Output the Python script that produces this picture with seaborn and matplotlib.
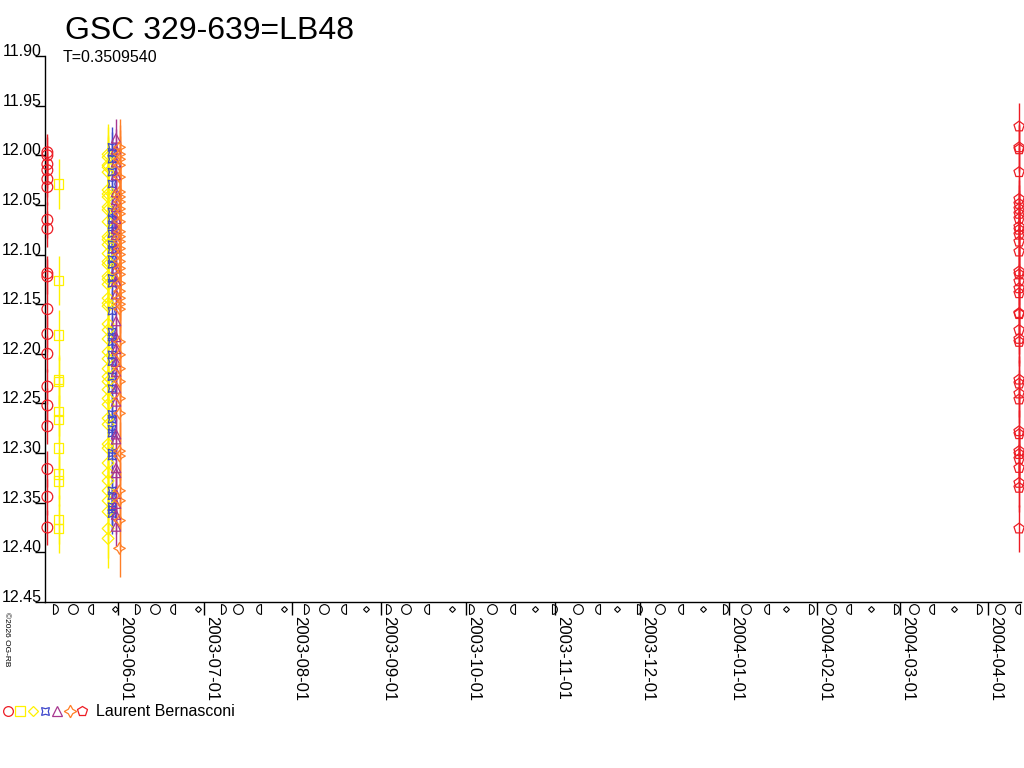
import numpy as np
import pandas as pd
import seaborn as sns
import matplotlib.pyplot as plt
from matplotlib.lines import Line2D
from matplotlib.path import Path
from matplotlib.legend_handler import HandlerTuple
from matplotlib.transforms import blended_transform_factory

sns.set_theme(style='white')
plt.rcParams['font.family'] = ['Liberation Sans', 'DejaVu Sans']
plt.rcParams['text.color'] = 'black'
plt.rcParams['xtick.color'] = 'black'
plt.rcParams['ytick.color'] = 'black'

# ---- data ----
title = 'GSC 329-639=LB48'
period_label = 'T=0.3509540'
observer = 'Laurent Bernasconi'
credit = '\u00a92026 OG-RB'

x_range = ['2003-05-06 07:00', '2004-04-12 12:00']
y_ticks = [11.90, 11.95, 12.00, 12.05, 12.10, 12.15, 12.20, 12.25, 12.30, 12.35, 12.40, 12.45]
month_ticks = ['2003-06-01', '2003-07-01', '2003-08-01', '2003-09-01', '2003-10-01',
               '2003-11-01', '2003-12-01', '2004-01-01', '2004-02-01', '2004-03-01',
               '2004-04-01']

# moon phases inside the plotted range
new_moons = ['2003-05-31', '2003-06-29', '2003-07-29', '2003-08-27', '2003-09-26',
             '2003-10-25', '2003-11-23', '2003-12-23', '2004-01-21', '2004-02-20',
             '2004-03-20']
first_quarters = ['2003-05-09', '2003-06-07', '2003-07-07', '2003-08-05', '2003-09-03',
                  '2003-10-02', '2003-10-31', '2003-11-30', '2003-12-30', '2004-01-29',
                  '2004-02-28', '2004-03-28']
full_moons = ['2003-05-16', '2003-06-14', '2003-07-13', '2003-08-12', '2003-09-10',
              '2003-10-10', '2003-11-09', '2003-12-08', '2004-01-07', '2004-02-06',
              '2004-03-06', '2004-04-05']
last_quarters = ['2003-05-23', '2003-06-21', '2003-07-21', '2003-08-20', '2003-09-18',
                 '2003-10-18', '2003-11-17', '2003-12-16', '2004-01-15', '2004-02-13',
                 '2004-03-13', '2004-04-12']

circle_date = '2003-05-07 03:00'
circle_mag = [11.997, 12.000, 12.009, 12.015, 12.024, 12.032, 12.065, 12.074, 12.119,
              12.122, 12.155, 12.180, 12.200, 12.233, 12.252, 12.273, 12.316, 12.344,
              12.375]
circle_err = 0.018

square_date = '2003-05-11 03:00'
square_mag = [12.029, 12.126, 12.181, 12.226, 12.228, 12.258, 12.266, 12.295, 12.321,
              12.328, 12.367, 12.376]
square_err = 0.025

diamond_date = '2003-05-28 10:00'
diamond_mag = [11.999, 12.002, 12.010, 12.012, 12.017, 12.035, 12.039, 12.042, 12.052,
               12.055, 12.067, 12.082, 12.085, 12.090, 12.099, 12.107, 12.110, 12.122,
               12.125, 12.130, 12.144, 12.149, 12.152, 12.170, 12.176, 12.185, 12.198,
               12.205, 12.215, 12.223, 12.228, 12.236, 12.245, 12.251, 12.265, 12.271,
               12.291, 12.295, 12.310, 12.320, 12.328, 12.338, 12.348, 12.359, 12.376,
               12.386]
diamond_err = 0.03

xstar_date = '2003-05-29 19:00'
xstar_mag = [11.992, 11.997, 12.004, 12.017, 12.029, 12.057, 12.065, 12.070, 12.079,
             12.090, 12.095, 12.105, 12.110, 12.124, 12.129, 12.157, 12.178, 12.183,
             12.188, 12.201, 12.208, 12.223, 12.235, 12.261, 12.266, 12.276, 12.280,
             12.300, 12.303, 12.338, 12.343, 12.354, 12.357, 12.361]
xstar_err = 0.02

triangle_date = '2003-05-31 05:00'
triangle_mag = [11.983, 11.994, 12.007, 12.020, 12.037, 12.045, 12.052, 12.064, 12.074,
                12.080, 12.094, 12.114, 12.127, 12.140, 12.167, 12.183, 12.195, 12.208,
                12.218, 12.235, 12.248, 12.281, 12.286, 12.315, 12.320, 12.341, 12.351,
                12.362, 12.374]
triangle_err = 0.02

star_date = '2003-06-01 10:00'
star_mag = [11.992, 11.999, 12.004, 12.010, 12.022, 12.037, 12.042, 12.047, 12.054,
            12.059, 12.067, 12.077, 12.082, 12.087, 12.094, 12.100, 12.107, 12.114,
            12.120, 12.129, 12.137, 12.144, 12.150, 12.155, 12.188, 12.201, 12.215,
            12.228, 12.245, 12.260, 12.298, 12.303, 12.338, 12.348, 12.368, 12.396]
star_err = 0.029

pentagon_date = '2004-04-11 20:00'
pentagon_mag = [11.971, 11.992, 11.994, 12.017, 12.044, 12.049, 12.054, 12.059, 12.064,
                12.072, 12.075, 12.080, 12.087, 12.097, 12.117, 12.120, 12.127, 12.134,
                12.139, 12.159, 12.160, 12.176, 12.185, 12.188, 12.226, 12.230, 12.240,
                12.246, 12.278, 12.281, 12.298, 12.301, 12.306, 12.315, 12.330, 12.335,
                12.376]
pentagon_err = 0.024

# ---- styling per series: marker, colour, scatter size, legend size ----
RED, YELLOW, BLUE, PURPLE, ORANGE = '#ed1c24', '#fff200', '#3f48cc', '#a8368f', '#ff7f27'
series = [
    (circle_date, circle_mag, circle_err, 'o', RED, 60, 7),
    (square_date, square_mag, square_err, 's', YELLOW, 45, 6.5),
    (diamond_date, diamond_mag, diamond_err, 'D', YELLOW, 36, 5.5),
    (xstar_date, xstar_mag, xstar_err, (4, 1, 45), BLUE, 60, 8),
    (triangle_date, triangle_mag, triangle_err, '^', PURPLE, 45, 7),
    (star_date, star_mag, star_err, (4, 1, 0), ORANGE, 70, 9),
    (pentagon_date, pentagon_mag, pentagon_err, 'p', RED, 60, 7.5),
]

fig = plt.figure(figsize=(10.24, 7.68), dpi=100)
ax = fig.add_axes([45 / 1024, 1 - 602 / 768, 976 / 1024, 546 / 768])

handles = []
for date, mags, err, marker, color, size, leg_size in series:
    df = pd.DataFrame({'date': pd.to_datetime([date] * len(mags)), 'mag': mags})
    ax.errorbar(df['date'], df['mag'], yerr=err, fmt='none', ecolor=color,
                elinewidth=1, capsize=0, zorder=2)
    sns.scatterplot(data=df, x='date', y='mag', marker=marker, s=size,
                    facecolor='none', edgecolor=color, linewidth=0.9, ax=ax,
                    zorder=3, clip_on=False)
    handles.append(Line2D([], [], ls='none', marker=marker, mfc='none', mec=color,
                          ms=leg_size, mew=0.9))

ax.set_xlim(pd.to_datetime(x_range[0]), pd.to_datetime(x_range[1]))
ax.set_ylim(y_ticks[-1], y_ticks[0])
ax.set_xlabel('')
ax.set_ylabel('')

for side in ['top', 'right']:
    ax.spines[side].set_visible(False)
for side in ['left', 'bottom']:
    ax.spines[side].set_color('black')
    ax.spines[side].set_linewidth(1)

ax.set_yticks(y_ticks)
ax.set_yticklabels([f'{v:.2f}' for v in y_ticks])
ax.tick_params(axis='y', left=True, length=7, width=1, pad=-4.5, labelsize=11.5,
               direction='out')
plt.setp(ax.get_yticklabels(), va='baseline')

ax.set_xticks(pd.to_datetime(month_ticks))
ax.set_xticklabels(month_ticks, rotation=-90, ha='left', va='top', fontsize=12)
ax.tick_params(axis='x', bottom=True, length=9, width=1, pad=1, direction='out')

# moon phase symbols under the axis
trans = blended_transform_factory(ax.transData, ax.transAxes)
theta = np.linspace(-np.pi / 2, np.pi / 2, 20)
right_half = Path(np.column_stack([np.cos(theta), np.sin(theta)]).tolist() + [[0, -1]])
left_half = Path(np.column_stack([-np.cos(theta), np.sin(theta)]).tolist() + [[0, -1]])
moon_y = -0.013
for dates, mk, ms in [(new_moons, 'D', 3), (first_quarters, right_half, 7),
                      (full_moons, 'o', 7), (last_quarters, left_half, 7)]:
    d = pd.to_datetime(dates)
    ax.plot(d, [moon_y] * len(d), ls='none', marker=mk, ms=ms, mfc='none',
            mec='black', mew=0.8, transform=trans, clip_on=False)

fig.text(65 / 1024, 1 - 39 / 768, title, fontsize=23, va='baseline', ha='left')
fig.text(63 / 1024, 1 - 62 / 768, period_label, fontsize=11.5, va='baseline', ha='left')
fig.text(3 / 1024, 1 - 612 / 768, credit, fontsize=6, rotation=-90, va='top', ha='left')

fig.legend([tuple(handles)], [observer],
           handler_map={tuple: HandlerTuple(ndivide=None, pad=0.0)},
           loc='center left', bbox_to_anchor=(2 / 1024, 1 - 712 / 768),
           frameon=False, fontsize=11.5, handlelength=5.4, handletextpad=0.5,
           borderpad=0, borderaxespad=0)

fig.savefig('out.png', dpi=100, facecolor='white')
